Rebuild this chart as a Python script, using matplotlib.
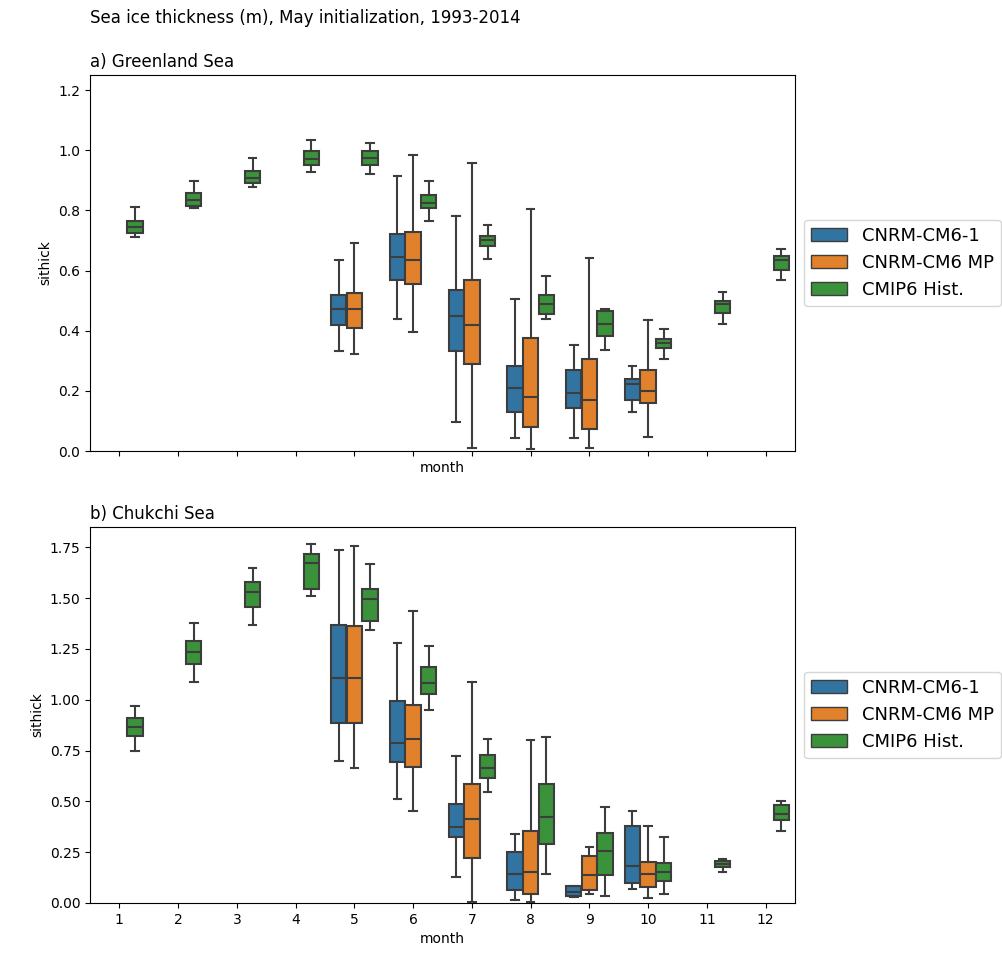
import numpy as np
import matplotlib
matplotlib.use("Agg")
import matplotlib.pyplot as plt
from matplotlib.patches import Patch

# ---------------- data (box stats) ----------------
months = list(range(1, 13))
models = ["CNRM-CM6-1", "CNRM-CM6 MP", "CMIP6 Hist."]
colors = ["#3274a1", "#e1812c", "#3a923a"]
gray = "#3d3d3d"
n = np.nan

# a) Greenland Sea
gre_cm61_lo = [n, n, n, n, .332, .439, .095, .042, .042, .130, n, n]
gre_cm61_q1 = [n, n, n, n, .420, .567, .332, .130, .144, .169, n, n]
gre_cm61_md = [n, n, n, n, .472, .645, .448, .208, .193, .224, n, n]
gre_cm61_q3 = [n, n, n, n, .520, .721, .536, .283, .269, .238, n, n]
gre_cm61_hi = [n, n, n, n, .635, .915, .782, .505, .354, .283, n, n]

gre_mp_lo = [n, n, n, n, .322, .394, .010, .007, .010, .046, n, n]
gre_mp_q1 = [n, n, n, n, .410, .556, .288, .081, .073, .158, n, n]
gre_mp_md = [n, n, n, n, .472, .636, .420, .180, .169, .198, n, n]
gre_mp_q3 = [n, n, n, n, .526, .729, .567, .377, .306, .269, n, n]
gre_mp_hi = [n, n, n, n, .692, .984, .956, .805, .643, .436, n, n]

gre_hist_lo = [.711, .807, .879, .929, .920, .765, .639, .439, .337, .305, .421, .568]
gre_hist_q1 = [.726, .813, .890, .950, .950, .807, .683, .454, .382, .344, .460, .603]
gre_hist_md = [.744, .835, .908, .970, .973, .824, .703, .490, .423, .358, .488, .634]
gre_hist_q3 = [.763, .857, .932, .998, .998, .851, .716, .520, .464, .374, .499, .647]
gre_hist_hi = [.810, .896, .974, 1.033, 1.024, .896, .751, .582, .473, .404, .528, .671]

# b) Chukchi Sea
chu_cm61_lo = [n, n, n, n, .697, .511, .129, .016, .028, .070, n, n]
chu_cm61_q1 = [n, n, n, n, .887, .696, .324, .066, .034, .100, n, n]
chu_cm61_md = [n, n, n, n, 1.105, .786, .372, .142, .056, .182, n, n]
chu_cm61_q3 = [n, n, n, n, 1.370, .995, .486, .252, .083, .380, n, n]
chu_cm61_hi = [n, n, n, n, 1.739, 1.279, .724, .341, .085, .453, n, n]

chu_mp_lo = [n, n, n, n, .663, .453, .005, .005, .046, .023, n, n]
chu_mp_q1 = [n, n, n, n, .887, .671, .223, .043, .064, .077, n, n]
chu_mp_md = [n, n, n, n, 1.105, .809, .411, .154, .136, .142, n, n]
chu_mp_q3 = [n, n, n, n, 1.362, .972, .584, .354, .232, .200, n, n]
chu_mp_hi = [n, n, n, n, 1.758, 1.436, 1.087, .802, .275, .380, n, n]

chu_hist_lo = [.748, 1.087, 1.370, 1.509, 1.344, .948, .547, .141, .036, .044, .152, .354]
chu_hist_q1 = [.820, 1.177, 1.454, 1.547, 1.387, 1.030, .616, .291, .139, .107, .178, .409]
chu_hist_md = [.864, 1.233, 1.531, 1.673, 1.496, 1.082, .665, .424, .255, .152, .192, .439]
chu_hist_q3 = [.910, 1.287, 1.577, 1.716, 1.545, 1.161, .727, .586, .342, .195, .206, .481]
chu_hist_hi = [.968, 1.377, 1.649, 1.767, 1.667, 1.264, .809, .817, .471, .326, .218, .501]

panels = [
    ("a) Greenland Sea", 1.25, [
        (gre_cm61_lo, gre_cm61_q1, gre_cm61_md, gre_cm61_q3, gre_cm61_hi),
        (gre_mp_lo, gre_mp_q1, gre_mp_md, gre_mp_q3, gre_mp_hi),
        (gre_hist_lo, gre_hist_q1, gre_hist_md, gre_hist_q3, gre_hist_hi)]),
    ("b) Chukchi Sea", 1.85, [
        (chu_cm61_lo, chu_cm61_q1, chu_cm61_md, chu_cm61_q3, chu_cm61_hi),
        (chu_mp_lo, chu_mp_q1, chu_mp_md, chu_mp_q3, chu_mp_hi),
        (chu_hist_lo, chu_hist_q1, chu_hist_md, chu_hist_q3, chu_hist_hi)]),
]

# ---------------- plotting ----------------
fig, axes = plt.subplots(2, 1, figsize=(10.02, 9.6), dpi=100)
fig.subplots_adjust(left=90/1002, right=795/1002, top=1-75/960,
                    bottom=1-903/960, hspace=0.202)

slot = 0.8 / len(models)
for ax, (title, ytop, series) in zip(axes, panels):
    for j, (lo, q1, md, q3, hi) in enumerate(series):
        stats, pos = [], []
        for i in range(len(months)):
            if np.isnan(md[i]):
                continue
            stats.append(dict(whislo=lo[i], q1=q1[i], med=md[i], q3=q3[i],
                              whishi=hi[i], fliers=[]))
            pos.append(i + (j - 1) * slot)
        ax.bxp(stats, positions=pos, widths=slot * 0.98, patch_artist=True,
               showfliers=False, manage_ticks=False,
               boxprops=dict(facecolor=colors[j], edgecolor=gray, linewidth=1.5),
               whiskerprops=dict(color=gray, linewidth=1.5),
               capprops=dict(color=gray, linewidth=1.5),
               medianprops=dict(color=gray, linewidth=1.5))
    ax.set_xlim(-0.5, len(months) - 0.5)
    ax.set_ylim(0, ytop)
    ax.set_xticks(range(len(months)))
    ax.set_xticklabels([str(m) for m in months])
    ax.set_xlabel("month")
    ax.set_ylabel("sithick")
    ax.set_title(title, loc="left", fontsize=12)
    # legend sits outside the axes and runs off the right edge, as in the original
    handles = [Patch(facecolor=c, edgecolor=gray, linewidth=1) for c in colors]
    ax.legend(handles, models, loc="center left", bbox_to_anchor=(1.0, 0.5),
              fontsize=13)

axes[0].tick_params(labelbottom=False)

fig.text(90/1002, 1 - 18/960, "Sea ice thickness (m), May initialization, 1993-2014",
         fontsize=12, ha="left", va="center")

fig.savefig("out.png", dpi=100)
